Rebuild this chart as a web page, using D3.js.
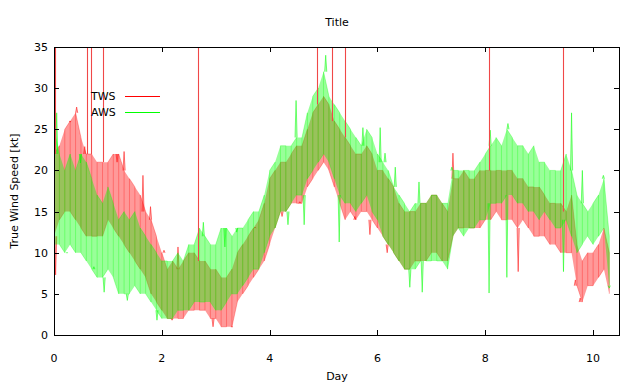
<!DOCTYPE html>
<html><head><meta charset="utf-8">
<script src="https://cdn.jsdelivr.net/npm/d3@7"></script>
<style>body{margin:0;background:#fff}svg{display:block}text{font-family:"DejaVu Sans",Tahoma,sans-serif;font-size:11px;fill:#000}</style>
</head><body><svg id="c" width="626" height="384"></svg>
<script>
const days = d3.range(0, 104).map(i => +(i * 0.1).toFixed(1));
const twsLo = [12,14,15,15,14,13,12,12,12,12,14,13,12,11,10,9,8,7,5,4,3,2,2,2,2,3,3,3,3,2,2,1,1,1,4,5,6,7,8,9,11,13,15,15,16,16,16,18,19,20,21,20,18,16,14,15,14,15,15,14,13,12,11,10,9,8,8,9,9,9,10,10,9,9,12,13,13,13,13,13,14,14,15,14,14,14,13,14,13,12,12,12,11,11,10,10,10,6,4,6,6,7,8,5];
const twsHi = [22,23,25,26,27,24,22,22,21,21,21,22,22,20,19,18,17,15,14,12,10,8,9,8,9,10,10,9,9,8,8,7,7,8,10,11,12,13,14,16,19,20,21,21,22,23,23,25,27,28,29,28,26,25,24,23,22,22,23,22,20,20,19,18,16,15,15,15,16,16,17,17,16,15,19,19,20,19,19,20,20,20,20,20,20,20,19,19,18,18,18,17,16,16,16,15,17,11,9,10,10,11,13,10];
const awsLo = [11,11,10,11,10,10,9,8,7,7,8,7,5,5,5,6,5,5,4,3,2,2,2,3,3,3,4,4,4,4,3,3,4,5,5,6,7,8,8,10,12,13,15,15,16,17,17,19,20,21,22,21,19,17,16,16,15,16,17,15,14,12,11,10,9,8,8,8,9,9,9,9,9,8,12,13,12,13,13,14,14,16,16,16,17,17,16,16,15,15,14,15,14,13,13,14,12,10,11,12,11,12,13,6];
const awsHi = [25,22,20,22,20,22,21,19,17,16,18,16,14,15,14,15,13,12,11,10,9,9,9,10,9,11,11,13,12,11,11,13,13,12,13,13,14,15,15,17,20,21,23,23,23,24,24,27,29,30,32,29,28,27,26,25,24,23,25,24,22,21,20,18,17,16,15,16,16,16,17,17,16,16,20,20,20,20,20,21,22,23,24,23,25,24,23,23,22,23,21,21,20,20,20,22,20,17,16,15,16,17,19,12];
// isolated peaks / dips
const twsPeakDays = [0.03,0.30,0.42,0.57,1.17,1.30,1.65,1.79,2.04,2.19,2.30,2.95,3.30,3.73,4.23,4.56,5.58,5.86,6.18,7.40,8.61,9.67,9.76];
const twsPeakVals = [7.3,25.9,27.7,22.9,21,22.3,19.4,15.6,10.3,1.8,10.7,1,1,13.1,14.4,16.2,14.4,12.2,10,22.1,7.7,6.7,4.5];
const awsPeakDays = [0.05,0.24,0.49,0.74,0.93,1.36,1.91,2.77,3.17,3.39,4.34,4.49,4.64,5.04,5.29,5.73,6.05,6.14,6.33,6.60,6.77,6.83,7.38,8.07,8.09,8.40,8.42,9.45,9.60,9.80,10.19,10.30];
const awsPeakVals = [27,10,20.9,8.3,5.2,4.2,1.8,13.7,10.7,12.5,13.4,28.5,13.4,34,11.3,25.2,25.2,22.1,20.4,5.8,18.6,5.2,20.4,5.1,24.9,7,25.7,7.7,27,20,19.4,5.7];
const twsSpikeDays = [0.02,0.62,0.69,0.91,2.68,4.87,5.16,5.39,8.06,9.45];
const xTicks = [0,2,4,6,8,10];
const yTicks = [0,5,10,15,20,25,30,35];

const svg = d3.select("#c");
const x = d3.scaleLinear().domain([0,10.48]).range([54,619]);
const y = d3.scaleLinear().domain([0,35]).range([335,47]);

svg.append("clipPath").attr("id","clp").append("rect").attr("x",54).attr("y",47).attr("width",565).attr("height",288);
const g = svg.append("g").attr("clip-path","url(#clp)");

function zig(lo, hi){
  const pts=[];
  days.forEach((d,i)=>{ if(i%2===0){pts.push([d,lo[i]],[d,hi[i]]);} else {pts.push([d,hi[i]],[d,lo[i]]);} });
  return pts;
}
const line = d3.line().x(p=>x(p[0])).y(p=>y(p[1]));
function drawSeries(lo, hi, pd, pv, col){
  const area = d3.area().x((d,i)=>x(days[i])).y0((d,i)=>y(lo[i])).y1((d,i)=>y(hi[i]));
  g.append("path").datum(lo).attr("d",area).attr("fill",col).attr("fill-opacity",0.4);
  const pts = zig(lo,hi);
  for(let i=0;i<pts.length-1;i++){
    g.append("path").attr("d",line([pts[i],pts[i+1]])).attr("stroke",col).attr("stroke-opacity",0.3).attr("stroke-width",1).attr("fill","none");
  }
  pd.forEach((d,i)=>{
    const k = Math.min(days.length-1, Math.round(d*10));
    const mid = (lo[k]+hi[k])/2;
    const base = pv[i] > mid ? hi[k] : lo[k];
    g.append("path").attr("d",line([[d-0.02,base],[d,pv[i]],[d+0.02,base]])).attr("stroke",col).attr("stroke-opacity",0.5).attr("stroke-width",1).attr("fill",col).attr("fill-opacity",0.3);
  });
}
drawSeries(twsLo, twsHi, twsPeakDays, twsPeakVals, "#ff0000");
drawSeries(awsLo, awsHi, awsPeakDays, awsPeakVals, "#00ff00");
twsSpikeDays.forEach(d=>{
  const k = Math.min(days.length-1, Math.round(d*10));
  g.append("line").attr("x1",Math.round(x(d))+0.5).attr("x2",Math.round(x(d))+0.5).attr("y1",y(twsHi[k])).attr("y2",y(40)).attr("stroke","#f04848").attr("stroke-width",1.1);
});

// frame
svg.append("rect").attr("x",54.5).attr("y",47.5).attr("width",565).attr("height",288).attr("fill","none").attr("stroke","#000");
// ticks
const ax = svg.append("g");
xTicks.forEach(t=>{
  const px=Math.round(x(t))+0.5;
  ax.append("line").attr("x1",px).attr("x2",px).attr("y1",335).attr("y2",330).attr("stroke","#000");
  ax.append("line").attr("x1",px).attr("x2",px).attr("y1",47).attr("y2",52).attr("stroke","#000");
  ax.append("text").attr("x",x(t)).attr("y",362).attr("text-anchor","middle").text(t);
});
yTicks.forEach(t=>{
  const py=Math.round(y(t))+0.5;
  ax.append("line").attr("x1",54).attr("x2",59).attr("y1",py).attr("y2",py).attr("stroke","#000");
  ax.append("line").attr("x1",619).attr("x2",614).attr("y1",py).attr("y2",py).attr("stroke","#000");
  ax.append("text").attr("x",48).attr("y",y(t)+4).attr("text-anchor","end").text(t);
});
svg.append("text").attr("x",337).attr("y",26).attr("text-anchor","middle").text("Title");
svg.append("text").attr("x",337).attr("y",380).attr("text-anchor","middle").text("Day");
svg.append("text").attr("transform","translate(18,191) rotate(-90)").attr("text-anchor","middle").text("True Wind Speed [kt]");
// legend
const leg=[["TWS","#ff0000",96],["AWS","#00ff00",112]];
leg.forEach(l=>{
  svg.append("text").attr("x",91).attr("y",l[2]+4).text(l[0]);
  svg.append("line").attr("x1",125).attr("x2",160).attr("y1",l[2]+0.5).attr("y2",l[2]+0.5).attr("stroke",l[1]);
});
</script></body></html>
